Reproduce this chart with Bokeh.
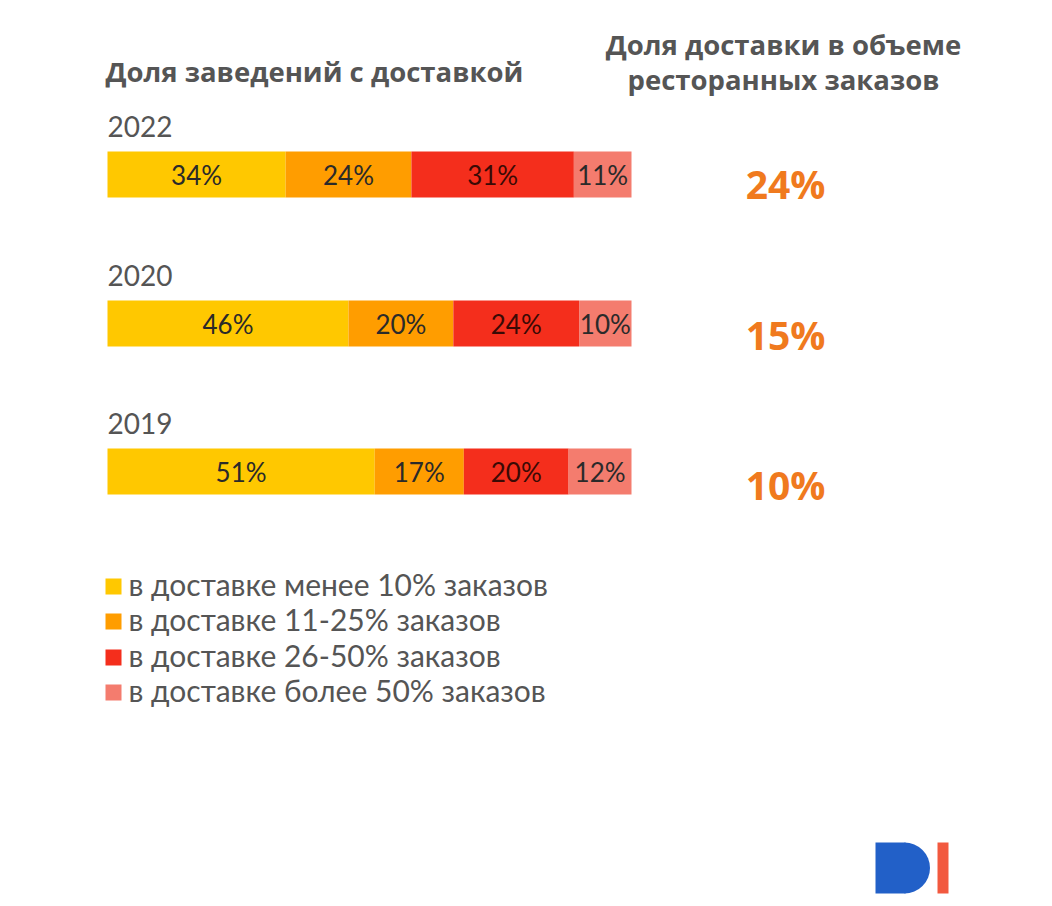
from bokeh.plotting import figure
from bokeh.models import Range1d, ColumnDataSource
from bokeh.core.properties import value
from bokeh.embed import file_html
from bokeh.resources import INLINE
import numpy as np

# ---- data ----
years = ["2022", "2020", "2019"]
cat_labels = ["в доставке менее 10% заказов", "в доставке 11-25% заказов",
              "в доставке 26-50% заказов", "в доставке более 50% заказов"]
less10 = [34, 46, 51]
from11to25 = [24, 20, 17]
from26to50 = [31, 24, 20]
over50 = [11, 10, 12]
delivery_share = ["24%", "15%", "10%"]
title_left = "Доля заведений с доставкой"
title_right = ["Доля доставки в объеме", "ресторанных заказов"]

colors = ["#FFC800", "#FF9D00", "#F42E1C", "#F47C6E"]
label_colors = ["#2a2a2a", "#2a2a2a", "#3a0a05", "#2a2a2a"]

# ---- layout ----
W, H = 1040, 898
X0 = 107.0         # frame px of 0%
S = 5.24           # px per percent
OFF = 0
def px(x):  # page x -> data x
    return (x - OFF - X0) / S
def py(y):  # page y -> data y
    return y - OFF

p = figure(width=W, height=H, output_backend="svg", toolbar_location=None,
           x_range=Range1d(-X0 / S, (W - X0) / S), y_range=Range1d(H, 0),
           min_border=0, outline_line_color=None, background_fill_color="white",
           border_fill_color="white")
p.axis.visible = False
p.grid.visible = False

bar_centers = [py(174), py(323), py(471)]
series = [less10, from11to25, from26to50, over50]
FONT = "Lato"
BOLD = "Open Sans"

starts = np.zeros(3)
for k, vals in enumerate(series):
    vals = np.array(vals, dtype=float)
    ends = starts + vals
    src = ColumnDataSource(dict(y=bar_centers, left=starts, right=ends,
                                mid=(starts + ends) / 2,
                                lab=[f"{int(v)}%" for v in vals]))
    p.hbar(y="y", left="left", right="right", height=46, source=src,
           fill_color=colors[k], line_color=None)
    p.text(x="mid", y="y", text="lab", source=src, text_align="center",
           text_baseline="middle", text_font=value(FONT), text_font_size="26px",
           text_color=label_colors[k])
    starts = ends

# year labels
p.text(x=[0] * 3, y=[py(126), py(275), py(423)], text=years,
       text_align="left", text_baseline="middle", text_font=value(FONT),
       text_font_size="28px", text_color="#555555")

# right-hand values
p.text(x=[px(785)] * 3, y=[py(183), py(334), py(484)], text=delivery_share,
       text_align="center", text_baseline="middle", text_font=value(BOLD),
       text_font_style="bold", text_font_size="39px", text_color="#F07A1E")

# titles
p.text(x=[px(105)], y=[py(71)], text=[title_left], text_align="left",
       text_baseline="middle", text_font=value(BOLD), text_font_style="bold",
       text_font_size="27.5px", text_color="#555555")
p.text(x=[px(783)] * 2, y=[py(44), py(79)], text=title_right, text_align="center",
       text_baseline="middle", text_font=value(BOLD), text_font_style="bold",
       text_font_size="27.5px", text_color="#555555")

# legend
leg_y = [py(586), py(621), py(657), py(692)]
p.scatter(x=[px(113)] * 4, y=leg_y, marker="square", size=16,
          fill_color=colors, line_color=None)
p.text(x=[px(128)] * 4, y=[v - 3 for v in leg_y], text=cat_labels, text_align="left",
       text_baseline="middle", text_font=value(FONT), text_font_size="30px",
       text_color="#555555")

# logo
p.quad(left=[px(875)], right=[px(905)], top=[py(842)], bottom=[py(893)],
       fill_color="#2260C8", line_color=None)
p.wedge(x=[px(904)], y=[py(867.5)], radius=25.5, radius_units="screen",
        start_angle=-np.pi / 2, end_angle=np.pi / 2, fill_color="#2260C8",
        line_color=None)
p.quad(left=[px(937)], right=[px(948)], top=[py(842)], bottom=[py(893)],
       fill_color="#F2593F", line_color=None)

open("out.html", "w").write(file_html(p, INLINE))
